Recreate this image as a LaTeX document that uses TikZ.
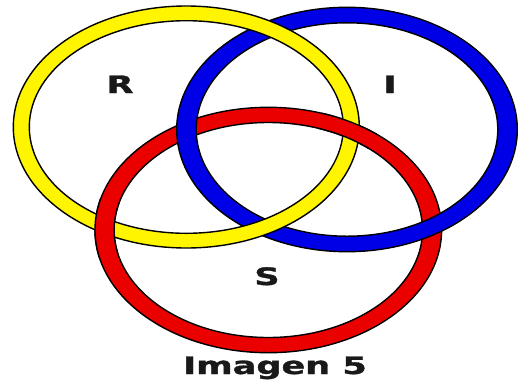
\documentclass[tikz,border=0pt]{standalone}
\usepackage{fontspec}
\newfontfamily\lblfont{DejaVu Sans}[BoldFeatures={FakeBold=1.2}]
\definecolor{ringyellow}{RGB}{255,245,0}
\definecolor{ringblue}{RGB}{0,0,230}
\definecolor{ringred}{RGB}{235,0,0}
\begin{document}
\begin{tikzpicture}[x=1pt,y=-1pt,
  ring/.style={draw=black, line width=1.4pt, even odd rule},
  lbl/.style={font=\lblfont\bfseries\fontsize{24}{28}\selectfont, inner sep=0pt, anchor=base, text=black!90}]
\useasboundingbox (0,0) rectangle (518,386);
\fill[white] (0,0) rectangle (518,386);
\def\ringRed{\path[ring, fill=ringred] (268.3,230) ellipse [x radius=173.3pt, y radius=122.7pt] (268.3,230) ellipse [x radius=154.2pt, y radius=107.5pt];}
\def\ringBlue{\path[ring, fill=ringblue] (347,129.5) ellipse [x radius=170.3pt, y radius=122.2pt] (347,129.5) ellipse [x radius=150.8pt, y radius=106.7pt];}
\def\ringYellow{\path[ring, fill=ringyellow] (186.3,127) ellipse [x radius=173pt, y radius=121pt] (186.3,127) ellipse [x radius=157pt, y radius=106.3pt];}
\ringRed
\ringBlue
\ringYellow
\begin{scope}
  \clip (103,228) circle [radius=30pt] (348,127) circle [radius=30pt];
  \ringRed
\end{scope}
\node[lbl] (R) at (120,93) {\scalebox{1.46}[1]{R}};
\node[lbl] (I) at (390,93) {\scalebox{1.46}[1]{I}};
\node[lbl] (S) at (267,285) {\scalebox{1.46}[1]{S}};
\node[lbl] (cap) at (275,374) {\scalebox{1.46}[1]{Imagen 5}};
\end{tikzpicture}
\end{document}
